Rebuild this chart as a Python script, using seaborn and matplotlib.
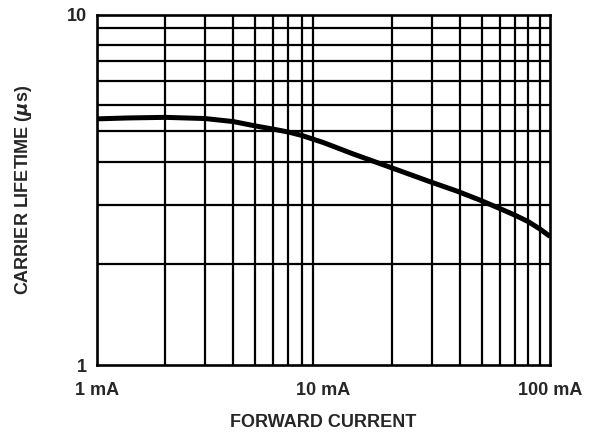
import matplotlib
matplotlib.use("Agg")
import matplotlib.pyplot as plt
import pandas as pd
import seaborn as sns

# -- Data ----------------------------------------------------------------------
current_ma  = [1, 1.37, 2, 3, 4, 5, 6, 7, 8, 10, 13.5, 19.3, 29.5, 38.8,
               49, 60, 70, 80, 90, 100]
lifetime_us = [5.05, 5.08, 5.10, 5.06, 4.96, 4.82, 4.72, 4.63, 4.53, 4.32,
               4.01, 3.69, 3.34, 3.14, 2.96, 2.80, 2.68, 2.57, 2.45, 2.33]

x_ticks       = [1, 10, 100]
x_tick_labels = ["1 mA", "10 mA", "100 mA"]
x_grid        = [2, 3, 4, 5, 6, 7, 8, 9, 20, 30, 40, 50, 60, 70, 80, 90]

y_ticks       = [1, 10]
y_tick_labels = ["1", "10"]
# horizontal rulings as drawn on the original sheet
y_grid        = [1.94, 2.87, 3.80, 4.66, 5.53, 6.48, 7.39, 8.21, 9.18]

# -- Style ----------------------------------------------------------------------
sns.set_style("white")
plt.rcParams["font.family"] = ["Liberation Sans", "DejaVu Sans"]
plt.rcParams["font.weight"] = "bold"
plt.rcParams["mathtext.default"] = "it"

df = pd.DataFrame({"current": current_ma, "lifetime": lifetime_us})

fig = plt.figure(figsize=(5.9, 4.36), dpi=100)
ax = fig.add_axes([0.1644, 0.1628, 0.7678, 0.8028])

ax.set_xscale("log")
ax.set_yscale("log")
ax.set_xlim(1, 100)
ax.set_ylim(1, 10)

# grid rulings
for gx in x_grid:
    ax.axvline(gx, color="black", lw=1.6, zorder=1)
for gy in y_grid:
    ax.axhline(gy, color="black", lw=1.6, zorder=1)

sns.lineplot(data=df, x="current", y="lifetime", ax=ax, color="black",
             lw=3.6, zorder=3, solid_capstyle="butt")

ax.set_xticks(x_ticks)
ax.set_xticklabels(x_tick_labels, fontsize=13, fontweight="bold")
ax.set_xticks([], minor=True)
ax.set_yticks(y_ticks)
ax.set_yticklabels(y_tick_labels, fontsize=13, fontweight="bold")
ax.set_yticks([], minor=True)
ax.tick_params(axis="both", length=0)
ax.tick_params(axis="x", pad=12)
ax.tick_params(axis="y", pad=7)

for sp in ax.spines.values():
    sp.set_color("black")
    sp.set_linewidth(1.9)

ax.set_xlabel("FORWARD CURRENT", fontsize=13, fontweight="bold", labelpad=11)
ax.set_ylabel(r"CARRIER LIFETIME ($\mu$s)", fontsize=13, fontweight="bold",
              labelpad=24)

fig.savefig("out.png", dpi=100)
